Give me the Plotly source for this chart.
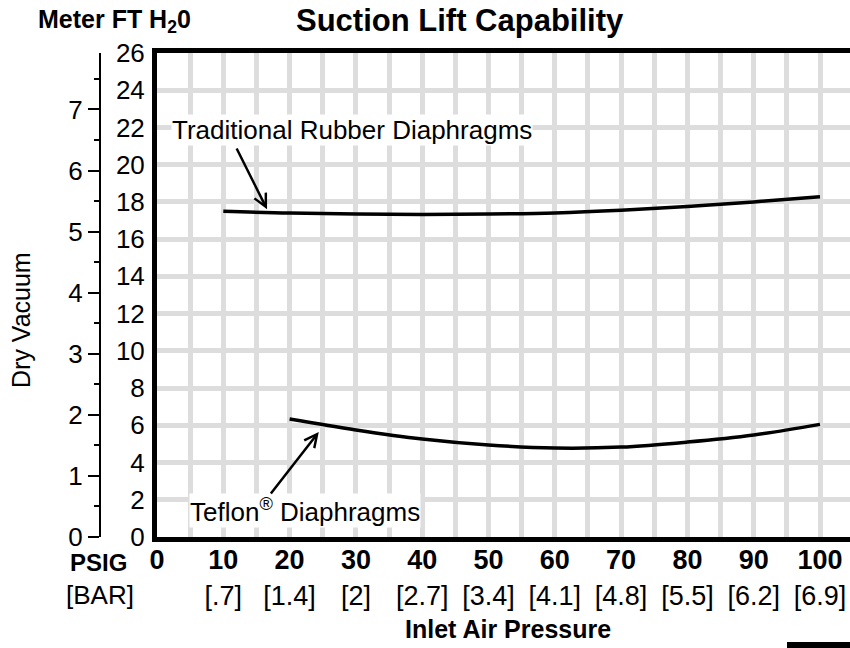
import plotly.graph_objects as go

# ---- data ----
psig_ticks = [0, 10, 20, 30, 40, 50, 60, 70, 80, 90, 100]
bar_labels = ["", "[.7]", "[1.4]", "[2]", "[2.7]", "[3.4]", "[4.1]", "[4.8]", "[5.5]", "[6.2]", "[6.9]"]

rubber_psi = [10, 20, 30, 40, 50, 60, 70, 80, 90, 100]
rubber_ft = [17.50, 17.40, 17.35, 17.33, 17.35, 17.41, 17.55, 17.75, 18.00, 18.28]

teflon_psi = [20, 30, 40, 50, 60, 70, 80, 90, 100]
teflon_ft = [6.34, 5.75, 5.26, 4.94, 4.78, 4.83, 5.10, 5.48, 6.05]

ft_ticks = list(range(0, 27, 2))
meter_ticks = [0, 1, 2, 3, 4, 5, 6, 7]
FT_PER_M = 3.28084

FONT = "Liberation Sans, Arial, sans-serif"
W, H = 850, 648
L, T, B = 157, 53, 111
plot_h = H - T - B

def px(xp):
    return xp / W

def py(yp):
    return (H - B - yp) / plot_h

fig = go.Figure()

fig.add_trace(go.Scatter(x=rubber_psi, y=rubber_ft, mode="lines",
                         line=dict(color="black", width=3.5, shape="spline"),
                         hoverinfo="skip", showlegend=False))
fig.add_trace(go.Scatter(x=teflon_psi, y=teflon_ft, mode="lines",
                         line=dict(color="black", width=3.5, shape="spline"),
                         hoverinfo="skip", showlegend=False))
# invisible trace to activate meter axis
fig.add_trace(go.Scatter(x=[0], y=[0], yaxis="y2", mode="markers",
                         marker=dict(opacity=0), hoverinfo="skip", showlegend=False))

xmax = (W - L) / 6.63
ticktext = [f"<b>{p}</b><br>{b if b else ' '}" for p, b in zip(psig_ticks, bar_labels)]

fig.update_layout(
    width=W, height=H,
    margin=dict(l=0, r=0, t=T, b=B, autoexpand=False),
    paper_bgcolor="white", plot_bgcolor="white",
    font=dict(family=FONT, color="black", size=26),
    showlegend=False,
    xaxis=dict(
        domain=[L / W, 1], range=[0, xmax],
        tickmode="array", tickvals=psig_ticks, ticktext=ticktext,
        tickfont=dict(size=27, family=FONT),
        showgrid=True, gridcolor="#dddddd", gridwidth=5,
        minor=dict(dtick=5, tick0=0, showgrid=True, gridcolor="#dddddd", gridwidth=5),
        showline=True, linecolor="black", linewidth=5, mirror=True,
        ticks="", zeroline=False, fixedrange=True, automargin=False,
        ticklabelstandoff=-5,
    ),
    yaxis=dict(
        range=[0, 26], tickmode="array", tickvals=ft_ticks,
        tickfont=dict(size=26, family=FONT),
        showgrid=True, gridcolor="#dddddd", gridwidth=5,
        showline=True, linecolor="black", linewidth=5, mirror=False,
        ticks="", zeroline=False, ticklabelstandoff=2, automargin=False,
        fixedrange=True,
    ),
    yaxis2=dict(
        overlaying="y", anchor="free", position=100 / W, side="left",
        range=[0, 26 / FT_PER_M], tickmode="array", tickvals=meter_ticks,
        tickfont=dict(size=26, family=FONT),
        showgrid=False, zeroline=False, automargin=False, fixedrange=True,
        showline=True, linecolor="black", linewidth=2,
        ticks="outside", ticklen=11, tickwidth=2, tickcolor="black",
        minor=dict(dtick=0.5, tick0=0, ticks="outside", ticklen=5, tickwidth=2, tickcolor="black"),
    ),
)

ann = []
ann.append(dict(text="<b>Suction Lift Capability</b>", xref="paper", yref="paper",
                x=px(460), y=py(20), xanchor="center", yanchor="middle", showarrow=False,
                font=dict(size=31, family=FONT)))
ann.append(dict(text="<b>Meter FT H<sub>2</sub>0</b>", xref="paper", yref="paper",
                x=px(36), y=py(21), xanchor="left", yanchor="middle", showarrow=False,
                font=dict(size=25, family=FONT)))
ann.append(dict(text="Dry Vacuum", xref="paper", yref="paper", textangle=-90,
                x=px(21), y=py(320), xanchor="center", yanchor="middle", showarrow=False,
                font=dict(size=25, family=FONT)))
ann.append(dict(text="<b>PSIG</b>", xref="paper", yref="paper",
                x=px(98), y=py(562), xanchor="center", yanchor="middle", showarrow=False,
                font=dict(size=24, family=FONT)))
ann.append(dict(text="[BAR]", xref="paper", yref="paper",
                x=px(100), y=py(595), xanchor="center", yanchor="middle", showarrow=False,
                font=dict(size=26, family=FONT)))
ann.append(dict(text="<b>Inlet Air Pressure</b>", xref="paper", yref="paper",
                x=px(508), y=py(629), xanchor="center", yanchor="middle", showarrow=False,
                font=dict(size=25, family=FONT)))
# series labels
ann.append(dict(text="Traditional Rubber Diaphragms", xref="x", yref="y",
                x=29.4, y=21.86, xanchor="center", yanchor="middle", showarrow=False,
                bgcolor="white", borderpad=0, font=dict(size=26, family=FONT)))
ann.append(dict(text="Teflon<sup>®</sup> Diaphragms", xref="x", yref="y",
                x=22.3, y=1.40, xanchor="center", yanchor="middle", showarrow=False,
                bgcolor="white", borderpad=0, font=dict(size=26, family=FONT)))
# arrows
ann.append(dict(text="", xref="x", yref="y", x=16.6, y=17.6, ax=11.9, ay=20.95,
                axref="x", ayref="y", showarrow=True, arrowhead=5, arrowsize=1,
                arrowwidth=2.5, arrowcolor="black"))
ann.append(dict(text="", xref="x", yref="y", x=24.4, y=5.64, ax=17.0, ay=2.26,
                axref="x", ayref="y", showarrow=True, arrowhead=5, arrowsize=1,
                arrowwidth=2.5, arrowcolor="black"))
fig.update_layout(annotations=ann)

fig.add_shape(type="rect", xref="paper", yref="paper",
              x0=px(787), x1=1, y0=py(648), y1=py(642),
              fillcolor="black", line=dict(width=0))

fig.write_html("out.html", config={"displayModeBar": False, "staticPlot": True},
               post_script="document.body.style.margin='0';document.body.style.overflow='hidden';")
